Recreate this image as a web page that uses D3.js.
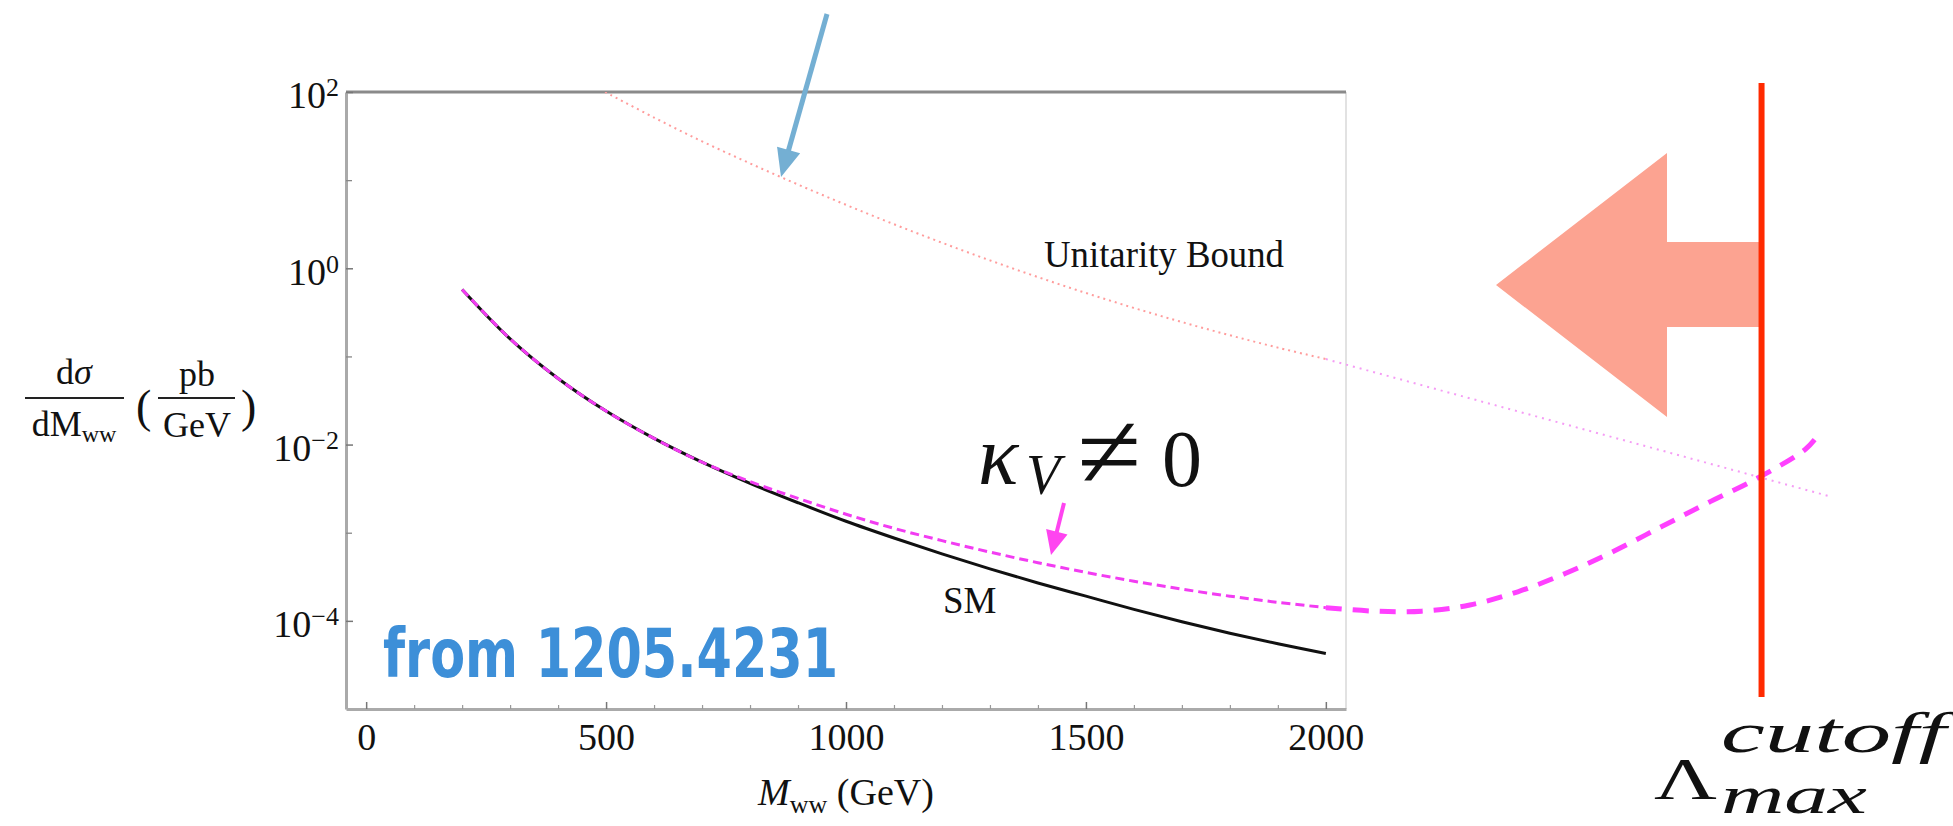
<!DOCTYPE html>
<html>
<head>
<meta charset="utf-8">
<script src="https://cdn.jsdelivr.net/npm/d3@7"></script>
<style>
  html, body { margin: 0; padding: 0; background: #fff; overflow: hidden; }
  svg { display: block; }
  text { font-family: "Liberation Serif", "DejaVu Serif", serif; fill: #111; }
</style>
</head>
<body>
<div id="chart"></div>
<script>
// masses in GeV, values as log10 of dσ/dM (pb/GeV)
var massGrid = [200, 300, 400, 500, 600, 700, 800, 900, 1000, 1100, 1200, 1300, 1400, 1500, 1600, 1700, 1800, 1900, 2000];
var smLog = [-0.24, -0.80, -1.25, -1.62, -1.93, -2.20, -2.44, -2.66, -2.87, -3.06, -3.24, -3.41, -3.57, -3.72, -3.87, -4.01, -4.14, -4.26, -4.37];
var kappaLog = [-0.24, -0.80, -1.25, -1.62, -1.93, -2.20, -2.42, -2.61, -2.79, -2.95, -3.09, -3.22, -3.34, -3.45, -3.55, -3.64, -3.72, -3.79, -3.85];

// hand drawn continuation of the kappa curve past the frame
var kappaExtMass = [2000, 2100, 2200, 2300, 2400, 2500, 2600, 2700, 2800, 2900, 3000, 3025];
var kappaExtLog = [-3.85, -3.89, -3.89, -3.82, -3.67, -3.46, -3.21, -2.93, -2.65, -2.38, -2.05, -1.90];

var unitMass = [498, 600, 700, 800, 900, 1000, 1100, 1200, 1300, 1400, 1500, 1600, 1700, 1800, 1900, 2000];
var unitLog = [2.0, 1.71, 1.44, 1.19, 0.95, 0.72, 0.50, 0.29, 0.09, -0.10, -0.28, -0.45, -0.61, -0.76, -0.90, -1.03];
var unitExtMass = [2000, 3052];
var unitExtLog = [-1.03, -2.59];

var xMajor = [0, 500, 1000, 1500, 2000];
var xMinor = [100, 200, 300, 400, 600, 700, 800, 900, 1100, 1200, 1300, 1400, 1600, 1700, 1800, 1900];
var yMajorExp = [2, 0, -2, -4];
var yMinorExp = [1, -1, -3];
var cutoffMass = 2908;

var width = 1953, height = 826;

var svg = d3.select('#chart').append('svg')
  .attr('width', width)
  .attr('height', height);

var x = d3.scaleLinear().domain([-42, 2042]).range([346, 1346]);
var y = d3.scaleLog().domain([1e-5, 1e2]).range([709, 92]);

var pairs = function (ms, vs) { return ms.map(function (m, i) { return [m, vs[i]]; }); };
var line = d3.line()
  .x(function (d) { return x(d[0]); })
  .y(function (d) { return y(Math.pow(10, d[1])); })
  .curve(d3.curveCatmullRom.alpha(0.5));

svg.append('clipPath').attr('id', 'frame')
  .append('rect')
  .attr('x', x.range()[0]).attr('y', y.range()[1])
  .attr('width', x.range()[1] - x.range()[0])
  .attr('height', y.range()[0] - y.range()[1]);

// frame
svg.append('line').attr('x1', x.range()[1]).attr('x2', x.range()[1])
  .attr('y1', y.range()[1]).attr('y2', y.range()[0])
  .attr('stroke', '#e2e2e2').attr('stroke-width', 2);
svg.append('line').attr('x1', x.range()[0]).attr('x2', x.range()[1])
  .attr('y1', y.range()[1]).attr('y2', y.range()[1])
  .attr('stroke', '#8a8a8a').attr('stroke-width', 3);

// bottom axis
var xAxis = svg.append('g')
  .attr('transform', 'translate(0,' + y.range()[0] + ')')
  .call(d3.axisBottom(x).tickValues(xMajor).tickSize(-7).tickSizeOuter(0).tickPadding(14)
    .tickFormat(d3.format('d')));
xAxis.select('.domain').attr('stroke', '#aaa').attr('stroke-width', 3);
xAxis.selectAll('.tick line').attr('stroke', '#777').attr('stroke-width', 1.5);
xAxis.selectAll('.tick text').attr('font-size', 38).attr('fill', '#111')
  .style('font-family', '"Liberation Serif", serif');

svg.append('g').attr('transform', 'translate(0,' + y.range()[0] + ')')
  .call(d3.axisBottom(x).tickValues(xMinor).tickSize(-4).tickFormat(''))
  .call(function (g) {
    g.select('.domain').remove();
    g.selectAll('.tick line').attr('stroke', '#999').attr('stroke-width', 1.2);
  });

// left axis
var yAxis = svg.append('g')
  .attr('transform', 'translate(' + x.range()[0] + ',0)')
  .call(d3.axisLeft(y).tickValues(yMajorExp.map(function (e) { return Math.pow(10, e); }))
    .tickSize(-7).tickSizeOuter(0).tickPadding(7).tickFormat(''));
yAxis.select('.domain').attr('stroke', '#aaa').attr('stroke-width', 3);
yAxis.selectAll('.tick line').attr('stroke', '#777').attr('stroke-width', 1.5);
yAxis.selectAll('.tick text')
  .attr('font-size', 38).attr('fill', '#111').attr('dy', '0.42em')
  .style('font-family', '"Liberation Serif", serif')
  .each(function (d) {
    var e = Math.round(Math.log10(d));
    var t = d3.select(this);
    t.append('tspan').text('10');
    t.append('tspan').attr('font-size', 26).attr('dy', -12)
      .text(e < 0 ? '\u2212' + (-e) : String(e));
  });

svg.append('g').attr('transform', 'translate(' + x.range()[0] + ',0)')
  .call(d3.axisLeft(y).tickValues(yMinorExp.map(function (e) { return Math.pow(10, e); }))
    .tickSize(-6).tickFormat(''))
  .call(function (g) {
    g.select('.domain').remove();
    g.selectAll('.tick line').attr('stroke', '#888').attr('stroke-width', 1.3);
  });

// curves inside the frame
var inner = svg.append('g').attr('clip-path', 'url(#frame)');

inner.append('path')
  .datum(pairs(unitMass, unitLog))
  .attr('d', line)
  .attr('fill', 'none')
  .attr('stroke', '#ff9c9c')
  .attr('stroke-width', 2)
  .attr('stroke-dasharray', '2,4');

inner.append('path')
  .datum(pairs(massGrid, smLog))
  .attr('d', line)
  .attr('fill', 'none')
  .attr('stroke', '#111')
  .attr('stroke-width', 3);

inner.append('path')
  .datum(pairs(massGrid, kappaLog))
  .attr('d', line)
  .attr('fill', 'none')
  .attr('stroke', '#f23cf2')
  .attr('stroke-width', 3)
  .attr('stroke-dasharray', '9,5');

// extensions outside the frame
svg.append('path')
  .datum(pairs(unitExtMass, unitExtLog))
  .attr('d', d3.line().x(function (d) { return x(d[0]); }).y(function (d) { return y(Math.pow(10, d[1])); }))
  .attr('fill', 'none')
  .attr('stroke', '#f59cf5')
  .attr('stroke-width', 2)
  .attr('stroke-dasharray', '2,5');

svg.append('path')
  .datum(pairs(kappaExtMass, kappaExtLog))
  .attr('d', line)
  .attr('fill', 'none')
  .attr('stroke', '#ff40ff')
  .attr('stroke-width', 5)
  .attr('stroke-dasharray', '16,11');

// big arrow pointing left from the cutoff
var cx = x(cutoffMass);
var arrowPts = [[1496, 285], [1667, 153], [1667, 242], [cx - 2, 242], [cx - 2, 327], [1667, 327], [1667, 417]];
svg.append('polygon')
  .attr('points', arrowPts.map(function (p) { return p.join(','); }).join(' '))
  .attr('fill', '#fca391');

svg.append('line')
  .attr('x1', cx).attr('x2', cx).attr('y1', 83).attr('y2', 697)
  .attr('stroke', '#ff2a00').attr('stroke-width', 6);

// small arrows
function arrow(x1, y1, x2, y2, headLen, halfW, color, sw) {
  var dx = x2 - x1, dy = y2 - y1, len = Math.sqrt(dx * dx + dy * dy);
  var ux = dx / len, uy = dy / len;
  var bx = x2 - ux * headLen, by = y2 - uy * headLen;
  svg.append('line').attr('x1', x1).attr('y1', y1).attr('x2', bx + ux * 2).attr('y2', by + uy * 2)
    .attr('stroke', color).attr('stroke-width', sw);
  svg.append('polygon')
    .attr('points', [[x2, y2], [bx - uy * halfW, by + ux * halfW], [bx + uy * halfW, by - ux * halfW]]
      .map(function (p) { return p.join(','); }).join(' '))
    .attr('fill', color);
}
arrow(827, 14, 781, 177, 28, 12, '#74afd3', 5);
arrow(1064, 503, 1051, 555, 24, 11, '#ff44f0', 4);

// labels
svg.append('text').attr('x', 1044).attr('y', 267).attr('font-size', 38)
  .attr('textLength', 240).attr('lengthAdjust', 'spacingAndGlyphs').text('Unitarity Bound');
svg.append('text').attr('x', 943).attr('y', 613).attr('font-size', 37).text('SM');

svg.append('text').attr('x', 978).attr('y', 484).attr('font-size', 84).attr('font-style', 'italic')
  .style('font-family', '"Liberation Serif", serif').text('\u03ba');
svg.append('text').attr('x', 1026).attr('y', 494).attr('font-size', 56).attr('font-style', 'italic')
  .style('font-family', '"Liberation Serif", serif').text('V');
svg.append('text').attr('x', 1077).attr('y', 488).attr('font-size', 108)
  .attr('textLength', 64).attr('lengthAdjust', 'spacingAndGlyphs')
  .style('font-family', '"Liberation Serif", serif').text('\u2260');
svg.append('text').attr('x', 1162).attr('y', 486).attr('font-size', 80).text('0');

svg.append('text')
  .attr('x', 383).attr('y', 677)
  .attr('font-size', 68)
  .attr('font-weight', 'bold')
  .attr('textLength', 455)
  .attr('lengthAdjust', 'spacingAndGlyphs')
  .style('font-family', '"DejaVu Sans Condensed", "DejaVu Sans", sans-serif')
  .style('fill', '#3d8fd8')
  .text('from 1205.4231');

// axis titles
var xt = svg.append('text').attr('x', 846).attr('y', 805).attr('font-size', 38).attr('text-anchor', 'middle');
xt.append('tspan').attr('font-style', 'italic').text('M');
xt.append('tspan').attr('font-size', 26).attr('dy', 8).text('ww');
xt.append('tspan').attr('dy', -8).text(' (GeV)');

var yl = svg.append('g');
yl.append('text').attr('x', 74).attr('y', 384).attr('font-size', 36).attr('text-anchor', 'middle')
  .call(function (t) {
    t.append('tspan').text('d');
    t.append('tspan').attr('font-style', 'italic').text('\u03c3');
  });
yl.append('line').attr('x1', 25).attr('x2', 124).attr('y1', 398).attr('y2', 398)
  .attr('stroke', '#222').attr('stroke-width', 2);
yl.append('text').attr('x', 74).attr('y', 436).attr('font-size', 36).attr('text-anchor', 'middle')
  .call(function (t) {
    t.append('tspan').text('dM');
    t.append('tspan').attr('font-size', 24).attr('dy', 6).text('ww');
  });
yl.append('text').attr('x', 136).attr('y', 422).attr('font-size', 46).text('(');
yl.append('text').attr('x', 197).attr('y', 386).attr('font-size', 36).attr('text-anchor', 'middle').text('pb');
yl.append('line').attr('x1', 158).attr('x2', 235).attr('y1', 398).attr('y2', 398)
  .attr('stroke', '#222').attr('stroke-width', 2);
yl.append('text').attr('x', 197).attr('y', 437).attr('font-size', 36).attr('text-anchor', 'middle').text('GeV');
yl.append('text').attr('x', 241).attr('y', 422).attr('font-size', 46).text(')');

// cutoff label
var lam = svg.append('g').style('font-family', '"Liberation Serif", serif');
lam.append('text').attr('x', 1654).attr('y', 799).attr('font-size', 59)
  .attr('textLength', 63).attr('lengthAdjust', 'spacingAndGlyphs').text('\u039b');
lam.append('text').attr('x', 1721).attr('y', 752).attr('font-size', 56).attr('font-style', 'italic')
  .attr('textLength', 225).attr('lengthAdjust', 'spacingAndGlyphs').text('cutoff');
lam.append('text').attr('x', 1721).attr('y', 813).attr('font-size', 52).attr('font-style', 'italic')
  .attr('textLength', 146).attr('lengthAdjust', 'spacingAndGlyphs').text('max');
</script>
</body>
</html>
